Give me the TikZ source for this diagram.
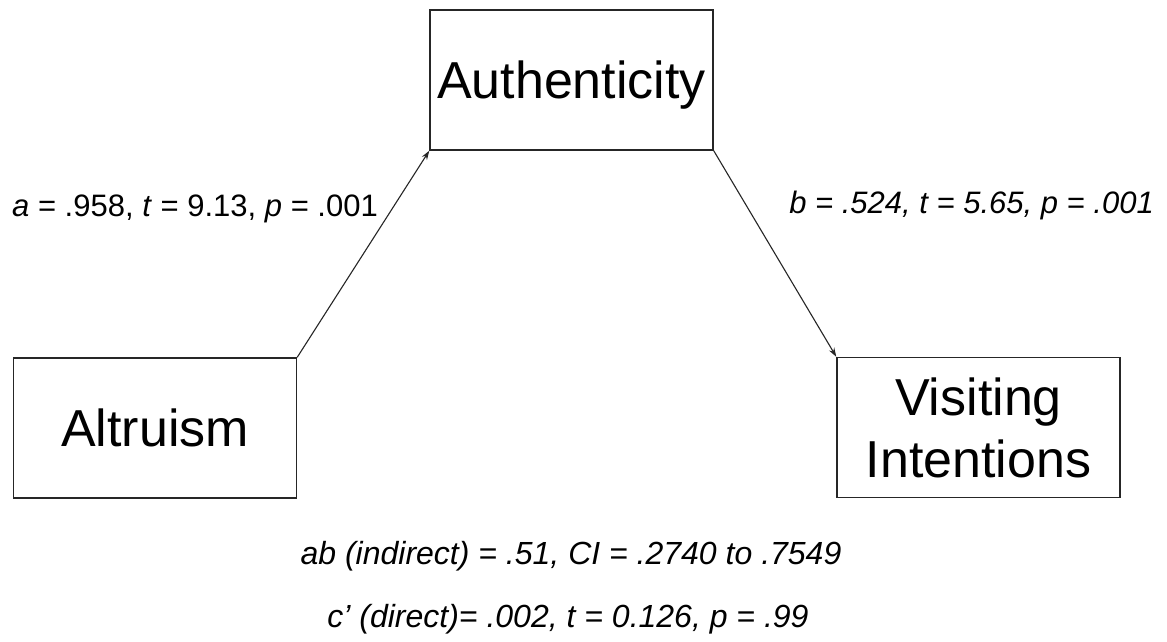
\documentclass[tikz,border=0pt]{standalone}
\usepackage{fontspec}
\setmainfont{Liberation Sans}
\usetikzlibrary{arrows.meta,positioning}

\begin{document}
\begin{tikzpicture}[x=1pt,y=-1pt,>={Stealth[length=9pt,width=6pt]}]
        \tikzstyle{varbox}=[draw=black!85,line width=1.5pt,inner sep=0pt,minimum width=283pt,minimum height=140pt,font=\fontsize{52}{62}\selectfont,align=center]
        \tikzstyle{coef}=[inner sep=0pt,font=\fontsize{31}{37}\selectfont]
        \tikzstyle{effect}=[inner sep=0pt,font=\fontsize{32}{38}\selectfont\itshape]
        \fill[white] (0,0) rectangle (1167,641);
        \useasboundingbox (0,0) rectangle (1167,641);

        % Variables
        \node[varbox,text depth=0pt] (auth) at (571.5,80) {Authenticity};
        \node[varbox,text depth=0pt] (altr) at (155,428) {Altruism};
        \node[varbox] (visit) at (978.5,427.5) {Visiting\\Intentions};

        % Paths a and b
        \draw[->,draw=black!85,line width=1.1pt] (altr.north east) -- (auth.south west);
        \draw[->,draw=black!85,line width=1.1pt] (auth.south east) -- (visit.north west);

        % Coefficients
        \node[coef,anchor=base west] (alab) at (12,216) {\textit{a} = .958, \textit{t} = 9.13, \textit{p} = .001};
        \node[coef,anchor=base east] (blab) at (1154,213) {\textit{b = .524, t = 5.65, p = .001}};

        % Indirect and direct effects
        \node[effect,anchor=base] (indirect) at (571,564) {ab (indirect) = .51, CI = .2740 to .7549};
        \node[effect,anchor=base] (direct) at (568,627) {c’ (direct)= .002, t = 0.126, p = .99};
\end{tikzpicture}
\end{document}
